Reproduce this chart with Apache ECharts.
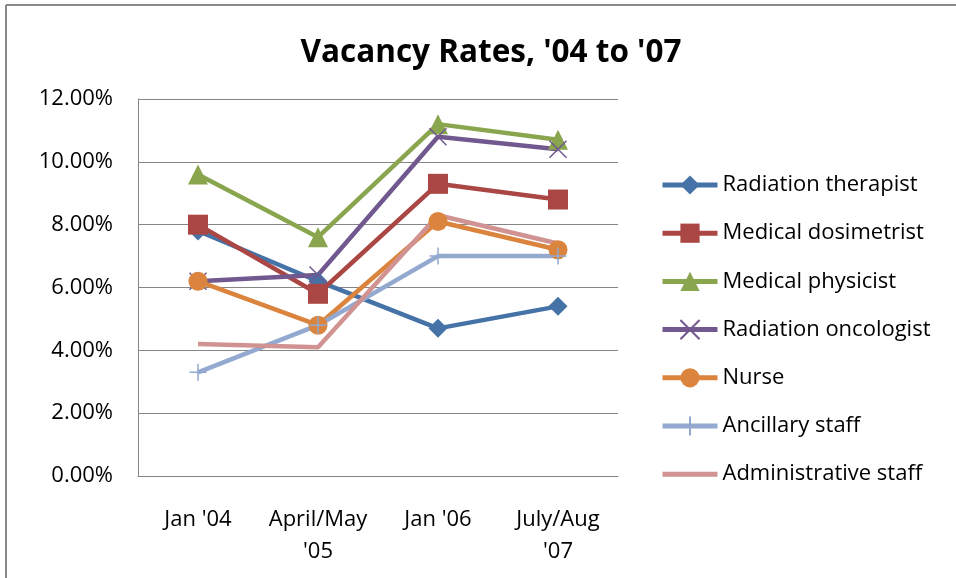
<!DOCTYPE html>
<html>
<head>
<meta charset="utf-8">
<script src="https://cdn.jsdelivr.net/npm/echarts@6/dist/echarts.min.js"></script>
<style>
html, body { margin: 0; padding: 0; background: #fff; }
#myChart { width: 956px; height: 578px; }
</style>
</head>
<body>
<div id="myChart"></div>
<script>
// data
const periods = ["Jan '04", "April/May\n'05", "Jan '06", "July/Aug\n'07"];
const radiationTherapist = [0.078, 0.062, 0.047, 0.054];
const medicalDosimetrist = [0.080, 0.058, 0.093, 0.088];
const medicalPhysicist = [0.096, 0.076, 0.112, 0.107];
const radiationOncologist = [0.062, 0.064, 0.108, 0.104];
const nurse = [0.062, 0.048, 0.081, 0.072];
const ancillaryStaff = [0.033, 0.048, 0.070, 0.070];
const administrativeStaff = [0.042, 0.041, 0.083, 0.074];
const yTicks = [0, 0.02, 0.04, 0.06, 0.08, 0.10, 0.12];

const FONT = 'Open Sans';
const xSymbol = 'path://M0,0L10,10M10,0L0,10';
const plusSymbol = 'path://M5,0L5,10M0,5L10,5';

function line(name, data, color, symbol, size, outline) {
    return {
        name: name,
        type: 'line',
        data: data,
        symbol: symbol,
        symbolSize: size,
        showSymbol: symbol !== 'none',
        animation: false,
        lineStyle: { color: color, width: 4.5 },
        itemStyle: outline
            ? { color: 'transparent', borderColor: color, borderWidth: 1.5 }
            : { color: color, borderWidth: 0 }
    };
}

let Chart = echarts.init(document.getElementById('myChart'));
Chart.setOption({
    backgroundColor: '#fff',
    textStyle: { fontFamily: FONT },
    title: {
        text: "Vacancy Rates, '04 to '07",
        left: 486,
        textAlign: 'center',
        top: 32,
        textStyle: { fontFamily: FONT, fontSize: 31.5, fontWeight: 'bold', color: '#000' }
    },
    graphic: [
        { type: 'line', shape: { x1: 6, y1: 5, x2: 956, y2: 5 }, style: { stroke: '#8a8a8a', lineWidth: 2 } },
        { type: 'line', shape: { x1: 6, y1: 5, x2: 6, y2: 578 }, style: { stroke: '#8a8a8a', lineWidth: 2 } }
    ],
    grid: { left: 138, top: 99, width: 480, height: 377 },
    legend: {
        orient: 'vertical',
        left: 660,
        top: 174,
        padding: 0,
        itemWidth: 55,
        itemHeight: 24,
        itemGap: 26.2,
        lineStyle: { width: 5 },
        textStyle: { fontFamily: FONT, fontSize: 22, color: '#000' },
        data: [
            'Radiation therapist', 'Medical dosimetrist', 'Medical physicist',
            'Radiation oncologist', 'Nurse', 'Ancillary staff',
            { name: 'Administrative staff', itemStyle: { opacity: 0 } }
        ]
    },
    xAxis: {
        type: 'category',
        data: periods,
        boundaryGap: true,
        axisLine: { lineStyle: { color: '#868686', width: 1 } },
        axisTick: { show: false },
        axisLabel: { interval: 0, fontFamily: FONT, fontSize: 22, color: '#000', lineHeight: 32, margin: 28 }
    },
    yAxis: {
        type: 'value',
        min: yTicks[0],
        max: yTicks[yTicks.length - 1],
        interval: 0.02,
        axisLine: { show: true, lineStyle: { color: '#868686', width: 1 } },
        axisTick: { show: false },
        splitLine: { lineStyle: { color: '#868686', width: 1 } },
        axisLabel: {
            fontFamily: FONT, fontSize: 22, color: '#000', margin: 25,
            formatter: v => (v * 100).toFixed(2) + '%'
        }
    },
    series: [
        line('Radiation therapist', radiationTherapist, '#4572a7', 'diamond', 19),
        line('Medical dosimetrist', medicalDosimetrist, '#aa4643', 'rect', 20),
        line('Medical physicist', medicalPhysicist, '#89a54e', 'triangle', 20),
        line('Radiation oncologist', radiationOncologist, '#71588f', xSymbol, 17, true),
        line('Nurse', nurse, '#db843d', 'circle', 19),
        line('Ancillary staff', ancillaryStaff, '#93a9cf', plusSymbol, 17, true),
        line('Administrative staff', administrativeStaff, '#d19392', 'none', 0)
    ]
}, true);
</script>
</body>
</html>
